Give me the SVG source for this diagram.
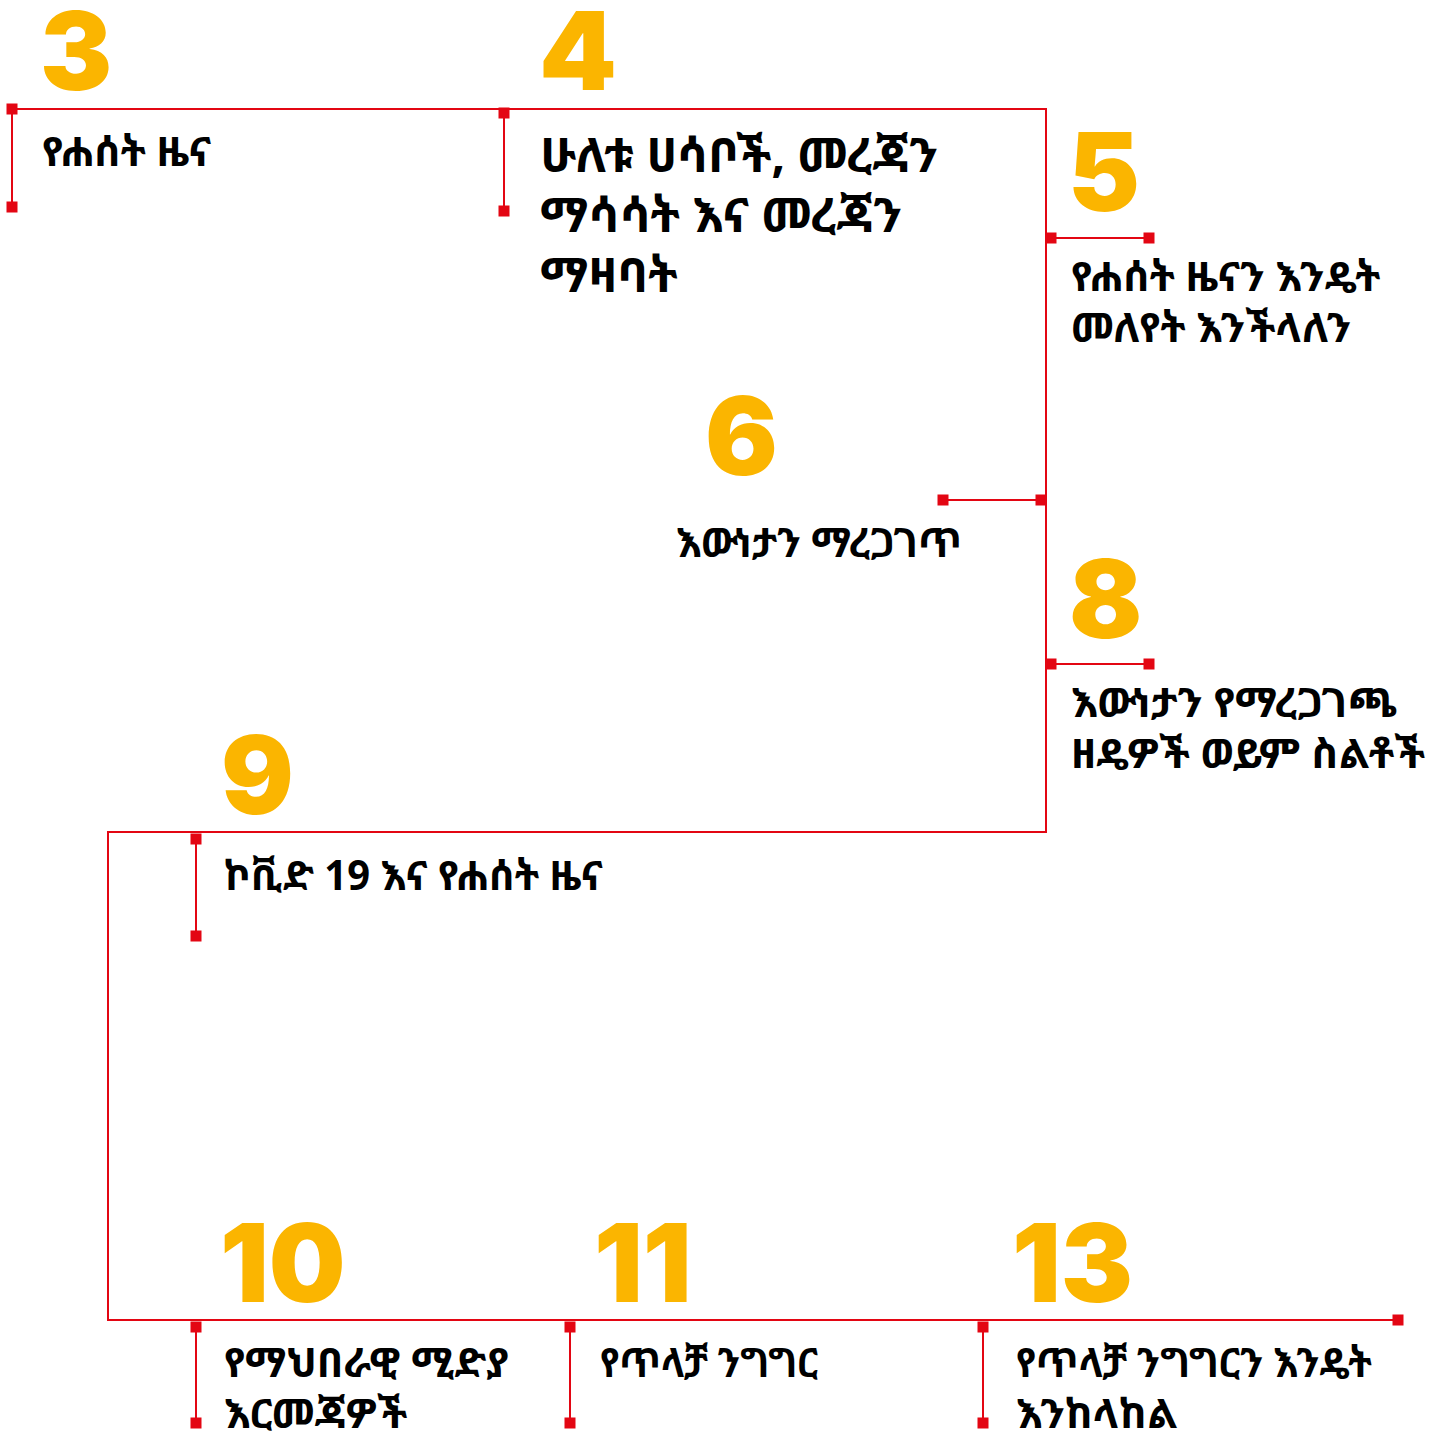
<svg xmlns="http://www.w3.org/2000/svg" width="1445" height="1432" viewBox="0 0 1445 1432">
<style>
.ln{fill:none;stroke:#e30613;stroke-width:2}
.mk{fill:#e30613}
.num{font-family:Inter,"Liberation Sans",sans-serif;font-weight:900;fill:#fbb500;font-size:108px}
.tx{font-family:"Noto Sans Ethiopic","Abyssinica SIL","Noto Sans","DejaVu Sans",sans-serif;font-weight:700;fill:#000;font-size:41px}
.big{font-size:48px}
</style>
<defs>
<rect id="sq" x="-5.5" y="-5.5" width="11" height="11" class="mk"/>
</defs>
<g id="connectors">
<path class="ln" d="M12,109 H1046 V832 H108 V1320 H1398"/>
<path class="ln" d="M12,109 V207 M504,113 V211 M1051,238 H1149 M943,500 H1041 M1051,664 H1149 M196,839 V936 M196,1327 V1423 M570,1327 V1423 M983,1327 V1423"/>
<use href="#sq" x="12" y="109"/><use href="#sq" x="12" y="207"/>
<use href="#sq" x="504" y="113"/><use href="#sq" x="504" y="211"/>
<use href="#sq" x="1051" y="238"/><use href="#sq" x="1149" y="238"/>
<use href="#sq" x="943" y="500"/><use href="#sq" x="1041" y="500"/>
<use href="#sq" x="1051" y="664"/><use href="#sq" x="1149" y="664"/>
<use href="#sq" x="196" y="839"/><use href="#sq" x="196" y="936"/>
<use href="#sq" x="196" y="1327"/><use href="#sq" x="196" y="1423"/>
<use href="#sq" x="570" y="1327"/><use href="#sq" x="570" y="1423"/>
<use href="#sq" x="983" y="1327"/><use href="#sq" x="983" y="1423"/>
<use href="#sq" x="1398" y="1320"/>
</g>
<g id="node3"><text class="num" x="40" y="90">3</text><text class="tx" x="42" y="166">የሐሰት ዜና</text></g>
<g id="node4"><text class="num" x="539" y="90" textLength="78" lengthAdjust="spacingAndGlyphs">4</text><text class="tx big" x="540" y="172">ሁለቱ ሀሳቦች, መረጃን</text><text class="tx big" x="540" y="232">ማሳሳት እና መረጃን</text><text class="tx big" x="540" y="292">ማዛባት</text></g>
<g id="node5"><text class="num" x="1068" y="211">5</text><text class="tx" x="1071" y="291">የሐሰት ዜናን እንዴት</text><text class="tx" x="1071" y="342">መለየት እንችላለን</text></g>
<g id="node6"><text class="num" x="705" y="475">6</text><text class="tx" x="676" y="557" textLength="286" lengthAdjust="spacingAndGlyphs">እውነታን ማረጋገጥ</text></g>
<g id="node8"><text class="num" x="1069" y="638">8</text><text class="tx" x="1071" y="717" textLength="326" lengthAdjust="spacingAndGlyphs">እውነታን የማረጋገጫ</text><text class="tx" x="1071" y="768" textLength="354" lengthAdjust="spacingAndGlyphs">ዘዴዎች ወይም ስልቶች</text></g>
<g id="node9"><text class="num" x="221" y="814">9</text><text class="tx" x="224" y="890" textLength="379" lengthAdjust="spacingAndGlyphs">ኮቪድ 19 እና የሐሰት ዜና</text></g>
<g id="node10"><text class="num" x="220" y="1302">10</text><text class="tx" x="224" y="1377">የማህበራዊ ሚድያ</text><text class="tx" x="224" y="1428">እርመጃዎች</text></g>
<g id="node11"><text class="num" x="594" y="1302">11</text><text class="tx" x="600" y="1377" textLength="218" lengthAdjust="spacingAndGlyphs">የጥላቻ ንግግር</text></g>
<g id="node13"><text class="num" x="1012" y="1302">13</text><text class="tx" x="1016" y="1377" textLength="356" lengthAdjust="spacingAndGlyphs">የጥላቻ ንግግርን እንዴት</text><text class="tx" x="1016" y="1428">እንከላከል</text></g>
</svg>
